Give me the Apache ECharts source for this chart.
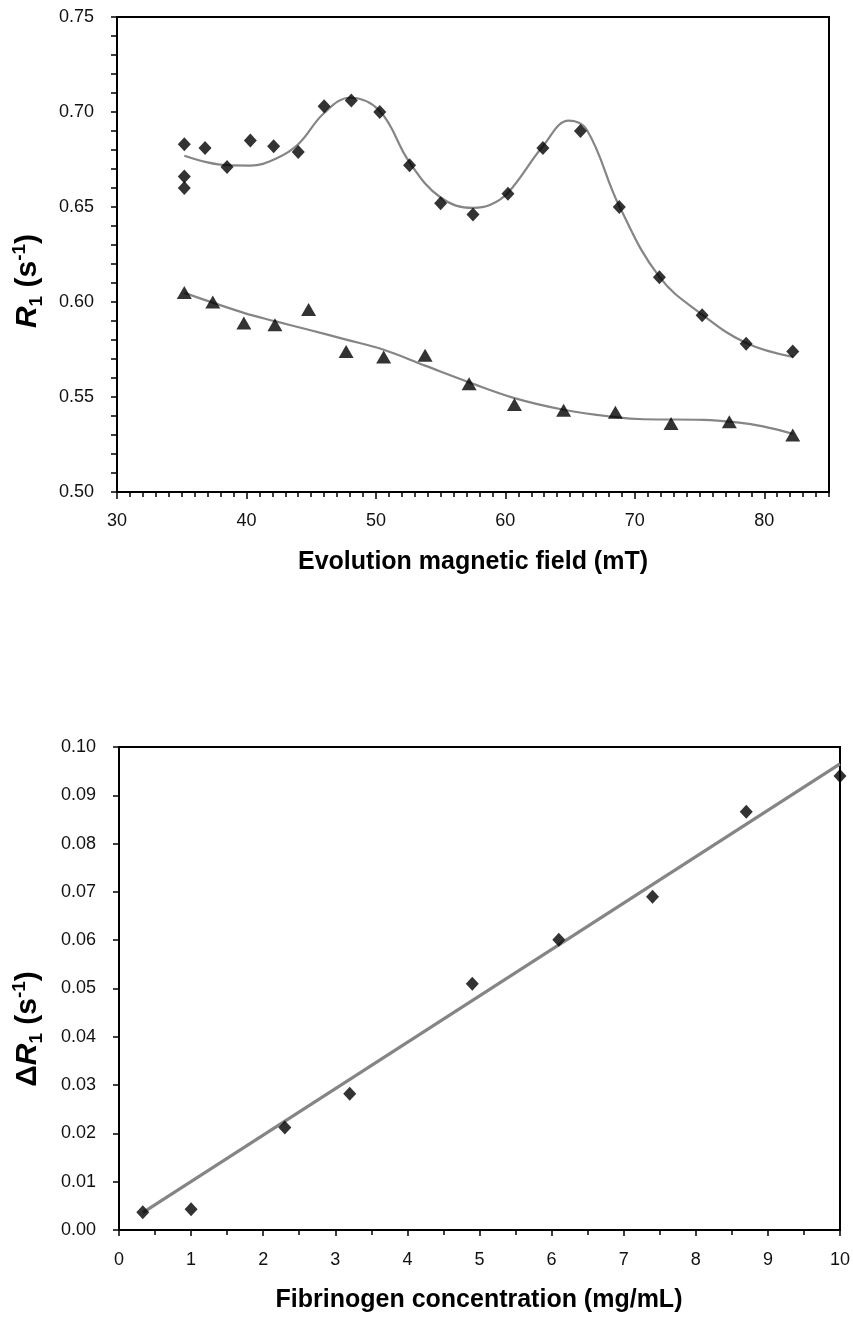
<!DOCTYPE html>
<html>
<head>
<meta charset="utf-8">
<script src="https://cdn.jsdelivr.net/npm/echarts@6/dist/echarts.min.js"></script>
<style>
html,body{margin:0;padding:0;background:#fff;}
#chart{width:853px;height:1318px;}
</style>
</head>
<body>
<div id="chart"></div>
<script>
// ---- Top chart data: R1 vs evolution magnetic field ----
const fieldDiamond = [35.2, 35.2, 35.2, 36.8, 38.5, 40.3, 42.1, 44.0, 46.0, 48.1, 50.3, 52.6, 55.0, 57.5, 60.2, 62.9, 65.8, 68.8, 71.9, 75.2, 78.6, 82.2];
const r1Diamond    = [0.683, 0.666, 0.660, 0.681, 0.671, 0.685, 0.682, 0.679, 0.703, 0.706, 0.700, 0.672, 0.652, 0.646, 0.657, 0.681, 0.690, 0.650, 0.613, 0.593, 0.578, 0.574];
const fieldTriangle = [35.2, 37.4, 39.8, 42.2, 44.8, 47.7, 50.6, 53.8, 57.2, 60.7, 64.5, 68.5, 72.8, 77.3, 82.2];
const r1Triangle    = [0.605, 0.600, 0.589, 0.588, 0.596, 0.574, 0.571, 0.572, 0.557, 0.546, 0.543, 0.542, 0.536, 0.537, 0.530];
// fitted curves
const fitDiamondX = [35.2, 37.0, 38.5, 40.3, 42.3, 44.0, 46.0, 48.0, 50.3, 52.6, 55.0, 57.5, 58.8, 60.2, 62.9, 64.9, 66.3, 68.8, 71.9, 75.2, 78.6, 82.2];
const fitDiamondY = [0.677, 0.6735, 0.672, 0.6718, 0.6755, 0.683, 0.6995, 0.7075, 0.7005, 0.6735, 0.655, 0.6495, 0.651, 0.6575, 0.682, 0.6955, 0.6905, 0.6505, 0.6132, 0.5934, 0.5784, 0.5711];
const fitTriangleX = [35.2, 39.8, 42.2, 44.8, 47.7, 50.6, 53.8, 57.2, 60.7, 64.5, 68.5, 70.7, 75.3, 77.9, 79.9, 82.2];
const fitTriangleY = [0.6048, 0.5943, 0.5899, 0.5854, 0.5802, 0.5749, 0.5665, 0.5577, 0.5494, 0.5433, 0.5394, 0.5383, 0.5380, 0.5366, 0.5345, 0.5306];
const topXTicks = [30, 40, 50, 60, 70, 80];
const topYTicks = [0.50, 0.55, 0.60, 0.65, 0.70, 0.75];

// ---- Bottom chart data: delta R1 vs fibrinogen concentration ----
const fibConc   = [0.33, 1.0, 2.3, 3.2, 4.9, 6.1, 7.4, 8.7, 10.0];
const deltaR1   = [0.0037, 0.0043, 0.0212, 0.0282, 0.0510, 0.0601, 0.0690, 0.0866, 0.0940];
const trendX    = [0.33, 10.0];
const trendY    = [0.0036, 0.0965];
const botXTicks = [0, 1, 2, 3, 4, 5, 6, 7, 8, 9, 10];
const botYTicks = [0.00, 0.01, 0.02, 0.03, 0.04, 0.05, 0.06, 0.07, 0.08, 0.09, 0.10];

const pairs = (xs, ys) => xs.map((x, i) => [x, ys[i]]);

const FONT = '"Liberation Sans", Arial, sans-serif';
const labelStyle = {color: '#111', fontFamily: FONT, fontSize: 18};
const axisLineStyle = {lineStyle: {color: '#000', width: 2}};
const tickStyle = {lineStyle: {color: '#000', width: 1.5}};

const chart = echarts.init(document.getElementById('chart'), null, {renderer: 'canvas'});

const yTitleRich = {
  n: {fontFamily: FONT, fontSize: 30, fontWeight: 'bold', color: '#000', lineHeight: 36},
  i: {fontFamily: FONT, fontSize: 30, fontWeight: 'bold', fontStyle: 'italic', color: '#000', lineHeight: 36},
  sub: {fontFamily: FONT, fontSize: 19, fontWeight: 'bold', color: '#000', lineHeight: 19, verticalAlign: 'bottom'},
  sup: {fontFamily: FONT, fontSize: 19, fontWeight: 'bold', color: '#000', lineHeight: 19, verticalAlign: 'top'}
};

const option = {
  backgroundColor: '#fff',
  animation: false,
  grid: [
    {left: 117, right: 24, top: 17, height: 475, show: true, borderColor: '#000', borderWidth: 2, backgroundColor: 'transparent'},
    {left: 119, right: 12, top: 747, height: 483, show: true, borderColor: '#000', borderWidth: 2, backgroundColor: 'transparent'}
  ],
  xAxis: [
    { // minor ticks every 1 mT
      type: 'value', gridIndex: 0, position: 'bottom', min: 30, max: 85, interval: 1,
      axisLine: axisLineStyle, axisTick: {show: true, length: 5, lineStyle: tickStyle.lineStyle},
      axisLabel: {show: false}, splitLine: {show: false}
    },
    { // major ticks and labels every 10 mT
      type: 'value', gridIndex: 0, position: 'bottom', min: 30, max: 85, interval: 10,
      axisLine: {show: false}, axisTick: {show: true, length: 7, lineStyle: tickStyle.lineStyle},
      axisLabel: Object.assign({margin: 20, showMaxLabel: false,
        formatter: v => topXTicks.includes(v) ? String(v) : ''}, labelStyle),
      splitLine: {show: false}
    },
    {
      type: 'value', gridIndex: 1, position: 'bottom', min: 0, max: 10, interval: 1,
      axisLine: axisLineStyle, axisTick: {show: true, length: 6, lineStyle: tickStyle.lineStyle},
      minorTick: {show: true, splitNumber: 2, length: 5, lineStyle: tickStyle.lineStyle},
      axisLabel: Object.assign({margin: 21,
        formatter: v => botXTicks.includes(v) ? String(v) : ''}, labelStyle),
      splitLine: {show: false}, minorSplitLine: {show: false}
    }
  ],
  yAxis: [
    {
      type: 'value', gridIndex: 0, min: 0.5, max: 0.75, interval: 0.05,
      axisLine: axisLineStyle, axisTick: {show: true, length: 6, lineStyle: tickStyle.lineStyle},
      minorTick: {show: true, splitNumber: 5, length: 6, lineStyle: tickStyle.lineStyle},
      axisLabel: Object.assign({margin: 23, formatter: v => v.toFixed(2)}, labelStyle),
      splitLine: {show: false}, minorSplitLine: {show: false}
    },
    {
      type: 'value', gridIndex: 1, min: 0, max: 0.1, interval: 0.01,
      axisLine: axisLineStyle, axisTick: {show: true, length: 6, lineStyle: tickStyle.lineStyle},
      axisLabel: Object.assign({margin: 23, formatter: v => v.toFixed(2)}, labelStyle),
      splitLine: {show: false}
    }
  ],
  series: [
    {type: 'line', xAxisIndex: 0, yAxisIndex: 0, data: pairs(fitDiamondX, fitDiamondY), smooth: 0.4,
      showSymbol: false, lineStyle: {color: '#858585', width: 2.2}, z: 2},
    {type: 'line', xAxisIndex: 0, yAxisIndex: 0, data: pairs(fitTriangleX, fitTriangleY), smooth: 0.4,
      showSymbol: false, lineStyle: {color: '#858585', width: 2.2}, z: 2},
    {type: 'scatter', xAxisIndex: 0, yAxisIndex: 0, data: pairs(fieldDiamond, r1Diamond),
      symbol: 'diamond', symbolSize: [13, 14], itemStyle: {color: '#000'}, z: 3},
    {type: 'scatter', xAxisIndex: 0, yAxisIndex: 0, data: pairs(fieldTriangle, r1Triangle),
      symbol: 'triangle', symbolSize: [15, 13], itemStyle: {color: '#000'}, z: 3},
    {type: 'line', xAxisIndex: 2, yAxisIndex: 1, data: pairs(trendX, trendY),
      showSymbol: false, lineStyle: {color: '#858585', width: 3.2}, z: 2},
    {type: 'scatter', xAxisIndex: 2, yAxisIndex: 1, data: pairs(fibConc, deltaR1),
      symbol: 'diamond', symbolSize: [13, 14], itemStyle: {color: '#000'}, z: 3}
  ],
  graphic: [
    {type: 'text', x: 28, y: 281, rotation: Math.PI / 2,
      style: {text: '{i|R}{sub|1}{n| (s}{sup|-1}{n|)}', rich: yTitleRich, align: 'center', verticalAlign: 'middle'}},
    {type: 'text', x: 28, y: 1029, rotation: Math.PI / 2,
      style: {text: '{n|\u0394}{i|R}{sub|1}{n| (s}{sup|-1}{n|)}', rich: yTitleRich, align: 'center', verticalAlign: 'middle'}},
    {type: 'text', x: 473, y: 562,
      style: {text: 'Evolution magnetic field (mT)', font: 'bold 25px ' + FONT, fill: '#000', align: 'center', verticalAlign: 'middle'}},
    {type: 'text', x: 479, y: 1300,
      style: {text: 'Fibrinogen concentration (mg/mL)', font: 'bold 25px ' + FONT, fill: '#000', align: 'center', verticalAlign: 'middle'}}
  ]
};
chart.setOption(option);
</script>
</body>
</html>
